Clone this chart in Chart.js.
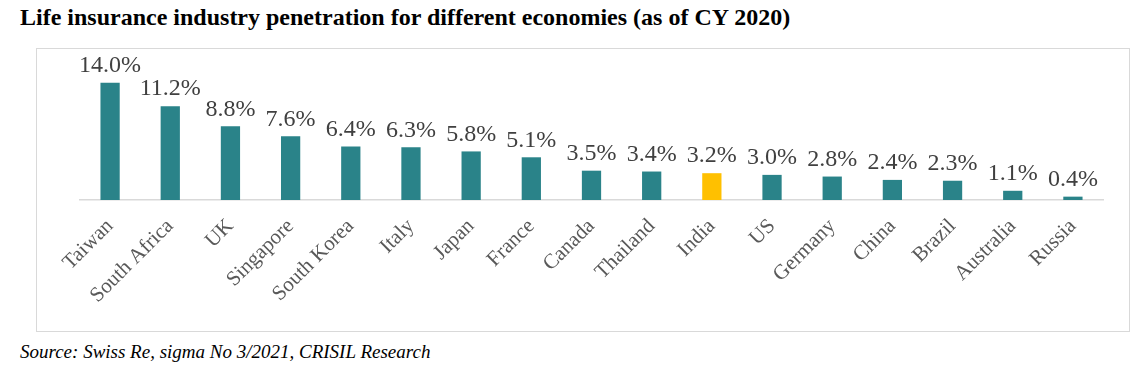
<!DOCTYPE html>
<html lang="en">
<head>
  <meta charset="UTF-8">
  <title>Life insurance penetration</title>
  <script src="https://cdn.jsdelivr.net/npm/chart.js"></script>
  <style>
    body { margin: 0; background: #fff; font-family: "Liberation Serif", "Times New Roman", serif; }
    h2 { position: absolute; left: 20px; top: 4px; margin: 0; font-size: 24px; font-weight: bold; color: #000; }
    .box { position: absolute; left: 36px; top: 48px; width: 1092px; height: 282px; border: 1px solid #d9d9d9; }
    .source { position: absolute; left: 20px; top: 341px; font-size: 19px; font-style: italic; color: #000; }
  </style>
</head>
<body>
  <h2>Life insurance industry penetration for different economies (as of CY 2020)</h2>
  <div class="box"><canvas id="penChart" width="1092" height="282"></canvas></div>
  <div class="source">Source: Swiss Re, sigma No 3/2021, CRISIL Research</div>

  <script>
    const countries = ["Taiwan", "South Africa", "UK", "Singapore", "South Korea", "Italy", "Japan", "France",
      "Canada", "Thailand", "India", "US", "Germany", "China", "Brazil", "Australia", "Russia"];
    const penetration = [14.0, 11.2, 8.8, 7.6, 6.4, 6.3, 5.8, 5.1, 3.5, 3.4, 3.2, 3.0, 2.8, 2.4, 2.3, 1.1, 0.4];
    const highlight = "India";

    const teal = "#2a8389";
    const gold = "#ffc000";

    // draws the % value above every bar
    const valueLabels = {
      id: "valueLabels",
      afterDatasetsDraw(chart) {
        const ctx = chart.ctx;
        const meta = chart.getDatasetMeta(0);
        ctx.save();
        ctx.font = '24px "Liberation Serif", serif';
        ctx.fillStyle = "#404040";
        ctx.textAlign = "center";
        ctx.textBaseline = "bottom";
        meta.data.forEach((bar, i) => {
          ctx.fillText(penetration[i].toFixed(1) + "%", bar.x, bar.y - 5);
        });
        ctx.restore();
      }
    };

    new Chart(document.getElementById("penChart").getContext("2d"), {
      type: "bar",
      data: {
        labels: countries,
        datasets: [{
          data: penetration,
          backgroundColor: countries.map(c => c === highlight ? gold : teal),
          categoryPercentage: 1,
          barPercentage: 0.32
        }]
      },
      options: {
        responsive: false,
        animation: false,
        layout: { padding: { left: 43, right: 26, top: 17, bottom: 0 } },
        plugins: {
          legend: { display: false },
          tooltip: { enabled: false }
        },
        scales: {
          x: {
            grid: { display: false, drawTicks: false },
            border: { display: true, color: "#d9d9d9", width: 1.5 },
            ticks: {
              color: "#595959",
              font: { family: '"Liberation Serif", serif', size: 21 },
              minRotation: 45,
              maxRotation: 45,
              padding: 14,
              autoSkip: false
            },
            afterFit(scale) { scale.height = 131; }
          },
          y: {
            display: false,
            min: 0,
            max: 16
          }
        }
      },
      plugins: [valueLabels]
    });
  </script>
</body>
</html>
